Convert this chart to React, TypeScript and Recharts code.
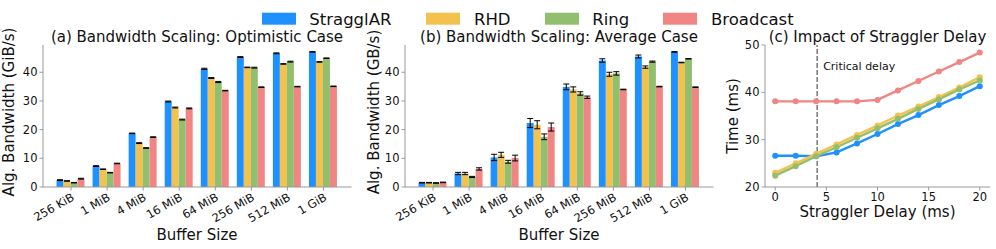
import { BarChart, Bar, ErrorBar, LineChart, Line, XAxis, YAxis, ReferenceLine } from "recharts";

const sizes = ["256 KiB", "1 MiB", "4 MiB", "16 MiB", "64 MiB", "256 MiB", "512 MiB", "1 GiB"];

// (a) optimistic case, GiB/s
const optStragglar = [2.4, 7.3, 18.7, 29.8, 41.2, 45.3, 46.6, 47.1];
const optRhd = [2.1, 6.2, 15.3, 27.7, 38.0, 41.7, 42.9, 43.6];
const optRing = [1.5, 5.0, 13.6, 23.5, 36.6, 41.6, 43.7, 44.9];
const optBroadcast = [2.9, 8.2, 17.4, 27.4, 33.6, 34.8, 35.0, 35.1];
const optStragglarErr = [0.15, 0.15, 0.1, 0.15, 0.2, 0.15, 0.15, 0.1];
const optRhdErr = [0.1, 0.1, 0.15, 0.15, 0.15, 0.1, 0.1, 0.1];
const optRingErr = [0.1, 0.1, 0.1, 0.15, 0.2, 0.15, 0.15, 0.1];
const optBroadcastErr = [0.15, 0.1, 0.1, 0.15, 0.1, 0.1, 0.1, 0.1];

// (b) average case, GB/s
const avgStragglar = [1.5, 4.7, 10.3, 22.3, 34.9, 44.1, 45.5, 47.1];
const avgRhd = [1.5, 4.7, 11.2, 21.7, 34.0, 39.3, 41.8, 43.4];
const avgRing = [1.4, 3.5, 8.8, 17.5, 32.6, 39.6, 43.7, 44.7];
const avgBroadcast = [1.6, 6.3, 10.1, 20.9, 31.3, 34.0, 35.0, 34.8];
const avgStragglarErr = [0.1, 0.4, 1.1, 1.6, 1.0, 0.6, 0.5, 0.1];
const avgRhdErr = [0.1, 0.4, 0.9, 1.4, 0.9, 0.7, 0.4, 0.1];
const avgRingErr = [0.1, 0.2, 0.5, 1.0, 0.6, 0.6, 0.2, 0.1];
const avgBroadcastErr = [0.1, 0.4, 1.0, 1.4, 0.4, 0.1, 0.1, 0.1];

// (c) straggler delay, ms
const delays = [0, 2, 4, 6, 8, 10, 12, 14, 16, 18, 20];
const timeStragglar = [26.6, 26.6, 26.5, 27.3, 29.2, 31.2, 33.3, 35.2, 37.3, 39.2, 41.3];
const timeRhd = [23.0, 25.0, 27.0, 29.0, 31.0, 33.0, 35.1, 37.0, 39.0, 41.0, 43.2];
const timeRing = [22.4, 24.4, 26.5, 28.4, 30.4, 32.4, 34.4, 36.5, 38.5, 40.6, 42.5];
const timeBroadcast = [38.1, 38.1, 38.1, 38.1, 38.1, 38.4, 40.4, 42.4, 44.4, 46.4, 48.4];
const criticalDelay = 4.1;

const seriesNames = ["StragglAR", "RHD", "Ring", "Broadcast"];
const colors = ["#1E90FF", "#F2C14E", "#92BF6E", "#F08583"];

const FONT = "DejaVu Sans";
const SPINE = "#999";
const TEXT = "#111";

function SizeTick(props: any) {
  const { x, y, payload } = props;
  return (
    <text
      x={x}
      y={y}
      dy="0.7em"
      textAnchor="end"
      fontSize={11.5}
      fill={TEXT}
      fontFamily={FONT}
      transform={`rotate(-30 ${x} ${y})`}
    >
      {payload.value}
    </text>
  );
}

function BandwidthPanel({ series, errors }: { series: number[][]; errors: number[][] }) {
  const data = sizes.map((size, i) => ({
    size,
    s0: series[0][i],
    s1: series[1][i],
    s2: series[2][i],
    s3: series[3][i],
    e0: errors[0][i],
    e1: errors[1][i],
    e2: errors[2][i],
    e3: errors[3][i],
  }));

  return (
    <BarChart
      width={362}
      height={249}
      data={data}
      margin={{ top: 45, right: 10.5, bottom: 0, left: 0 }}
      barCategoryGap={3.5}
      barGap={0}
    >
      <XAxis
        dataKey="size"
        interval={0}
        height={62}
        tick={<SizeTick />}
        tickSize={3.5}
        tickMargin={2}
        padding={{ left: 10, right: 10 }}
        stroke={SPINE}
      />
      <XAxis xAxisId="top" dataKey="size" orientation="top" height={0} tick={false} tickLine={false} stroke={SPINE} />
      <YAxis
        domain={[0, 49.5]}
        ticks={[0, 10, 20, 30, 40]}
        width={43}
        tickSize={3.5}
        tickMargin={2}
        tick={{ fontSize: 11.5, fill: TEXT, fontFamily: FONT }}
        stroke={SPINE}
      />
      <YAxis yAxisId="right" orientation="right" width={0} tick={false} tickLine={false} stroke={SPINE} />
      {colors.map((c, k) => (
        <Bar key={k} dataKey={`s${k}`} fill={c} isAnimationActive={false}>
          <ErrorBar dataKey={`e${k}`} width={3} stroke="#000" strokeWidth={1} direction="y" />
        </Bar>
      ))}
    </BarChart>
  );
}

function CriticalLabel(props: any) {
  const { viewBox } = props;
  return (
    <text x={viewBox.x + 6} y={viewBox.y + 24.5} fontSize={11} fill={TEXT} fontFamily={FONT}>
      Critical delay
    </text>
  );
}

function DelayPanel() {
  const data = delays.map((d, i) => ({
    delay: d,
    s0: timeStragglar[i],
    s1: timeRhd[i],
    s2: timeRing[i],
    s3: timeBroadcast[i],
  }));
  const order = [3, 0, 1, 2];

  return (
    <LineChart width={272} height={249} data={data} margin={{ top: 45, right: 6, bottom: 0, left: 0 }}>
      <XAxis
        dataKey="delay"
        type="number"
        domain={[-1, 21]}
        ticks={[0, 5, 10, 15, 20]}
        height={62}
        tickSize={3.5}
        tickMargin={2}
        tick={{ fontSize: 11.5, fill: TEXT, fontFamily: FONT }}
        stroke={SPINE}
      />
      <XAxis xAxisId="top" dataKey="delay" type="number" domain={[-1, 21]} orientation="top" height={0} tick={false} tickLine={false} stroke={SPINE} />
      <YAxis
        domain={[20, 50]}
        ticks={[20, 30, 40, 50]}
        width={41}
        tickSize={3.5}
        tickMargin={2}
        tick={{ fontSize: 11.5, fill: TEXT, fontFamily: FONT }}
        stroke={SPINE}
      />
      <YAxis yAxisId="right" orientation="right" width={0} tick={false} tickLine={false} stroke={SPINE} />
      <ReferenceLine
        x={criticalDelay}
        stroke="#777"
        strokeWidth={1.5}
        strokeDasharray="5 2"
        label={<CriticalLabel />}
      />
      {order.map((k) => (
        <Line
          key={k}
          dataKey={`s${k}`}
          stroke={colors[k]}
          strokeWidth={2.4}
          dot={{ r: 3, fill: colors[k], stroke: colors[k], strokeWidth: 0 }}
          isAnimationActive={false}
        />
      ))}
    </LineChart>
  );
}

const legendRects = [262, 426, 545, 663];
const legendTexts = [309.3, 474, 592.3, 711];

export default function App() {
  return (
    <div style={{ position: "absolute", left: 0, top: 0, width: 996, height: 249, background: "#fff", fontFamily: FONT }}>
      <div style={{ position: "absolute", left: 0, top: 0 }}>
        <BandwidthPanel
          series={[optStragglar, optRhd, optRing, optBroadcast]}
          errors={[optStragglarErr, optRhdErr, optRingErr, optBroadcastErr]}
        />
      </div>
      <div style={{ position: "absolute", left: 362, top: 0 }}>
        <BandwidthPanel
          series={[avgStragglar, avgRhd, avgRing, avgBroadcast]}
          errors={[avgStragglarErr, avgRhdErr, avgRingErr, avgBroadcastErr]}
        />
      </div>
      <div style={{ position: "absolute", left: 724, top: 0 }}>
        <DelayPanel />
      </div>
      <svg
        width={996}
        height={249}
        style={{ position: "absolute", left: 0, top: 0, pointerEvents: "none" }}
        fontFamily={FONT}
        fill={TEXT}
      >
        {seriesNames.map((name, k) => (
          <g key={name}>
            <rect x={legendRects[k]} y={12.7} width={34} height={12} fill={colors[k]} />
            <text x={legendTexts[k]} y={25} fontSize={16.5}>
              {name}
            </text>
          </g>
        ))}
        <text x={197} y={42} fontSize={15} textAnchor="middle">(a) Bandwidth Scaling: Optimistic Case</text>
        <text x={559} y={42} fontSize={15} textAnchor="middle">(b) Bandwidth Scaling: Average Case</text>
        <text x={877.5} y={42} fontSize={15} textAnchor="middle">(c) Impact of Straggler Delay</text>
        <text x={197} y={240} fontSize={15} textAnchor="middle">Buffer Size</text>
        <text x={559} y={240} fontSize={15} textAnchor="middle">Buffer Size</text>
        <text x={877.5} y={217} fontSize={15} textAnchor="middle">Straggler Delay (ms)</text>
        <text x={13.5} y={112} fontSize={15} textAnchor="middle" transform="rotate(-90 13.5 112)">Alg. Bandwidth (GiB/s)</text>
        <text x={378.5} y={112} fontSize={15} textAnchor="middle" transform="rotate(-90 378.5 112)">Alg. Bandwidth (GB/s)</text>
        <text x={738} y={116} fontSize={15} textAnchor="middle" transform="rotate(-90 738 116)">Time (ms)</text>
      </svg>
    </div>
  );
}
